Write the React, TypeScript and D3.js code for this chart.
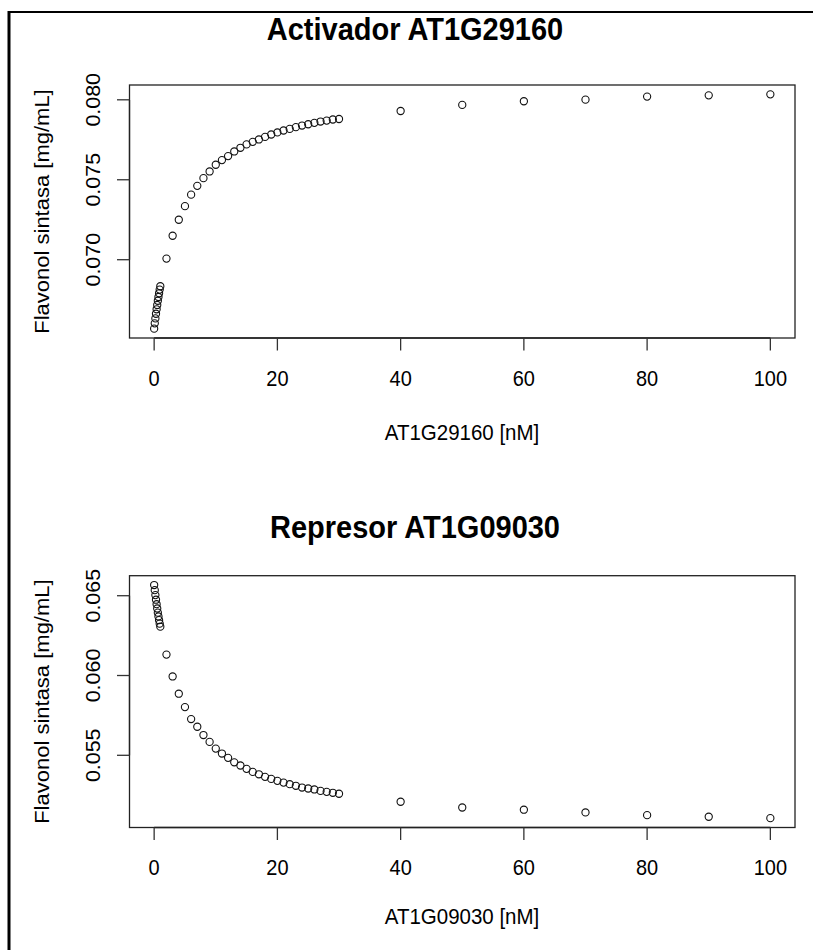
import React, { useEffect } from "react";
import * as d3 from "d3";

// concentracion del factor de transcripcion [nM]
const conc = [
  0, 0.1, 0.2, 0.3, 0.4, 0.5, 0.6, 0.7, 0.8, 0.9, 1,
  2, 3, 4, 5, 6, 7, 8, 9, 10, 11, 12, 13, 14, 15, 16, 17, 18, 19, 20,
  21, 22, 23, 24, 25, 26, 27, 28, 29, 30,
  40, 50, 60, 70, 80, 90, 100,
];

// flavonol sintasa [mg/mL]
const activador = [
  0.06569, 0.06602, 0.06633, 0.06662, 0.0669, 0.06717, 0.06743, 0.06767, 0.0679, 0.06813, 0.06834,
  0.07007, 0.0715, 0.0725, 0.07335, 0.07407, 0.07462, 0.0751, 0.07552, 0.07594, 0.07623,
  0.07648, 0.07677, 0.077, 0.07721, 0.07737, 0.07752, 0.07768, 0.07783, 0.07796,
  0.07808, 0.07818, 0.07829, 0.07839, 0.07847, 0.07856, 0.07864, 0.0787, 0.07877, 0.0788,
  0.0793, 0.07968, 0.07991, 0.08001, 0.0802, 0.08028, 0.08034,
];

const represor = [
  0.06567, 0.06535, 0.06504, 0.06475, 0.06447, 0.0642, 0.06394, 0.0637, 0.06347, 0.06325, 0.06306,
  0.06131, 0.05994, 0.05886, 0.05802, 0.05727, 0.05679, 0.05627, 0.05584, 0.05542, 0.05511,
  0.05484, 0.05456, 0.05436, 0.05415, 0.05396, 0.05381, 0.05365, 0.05352, 0.0534,
  0.05329, 0.05319, 0.05309, 0.05298, 0.05292, 0.05286, 0.05277, 0.05271, 0.05265, 0.05259,
  0.05209, 0.05173, 0.05159, 0.05142, 0.05125, 0.05115, 0.05106,
];

const xTicks = [0, 20, 40, 60, 80, 100];
const yTicksActivador = [0.07, 0.075, 0.08];
const yTicksRepresor = [0.055, 0.06, 0.065];

const titles = ["Activador AT1G29160", "Represor AT1G09030"];
const xLabels = ["AT1G29160 [nM]", "AT1G09030 [nM]"];
const yLabel = "Flavonol sintasa [mg/mL]";

const FONT = "'Liberation Sans', Arial, sans-serif";
const SY = 1.1; // el grafico original esta un poco estirado en vertical

// rango al estilo de R: extension de los datos +4% a cada lado
const padded = (vals: number[]) => {
  const [lo, hi] = d3.extent(vals) as [number, number];
  const p = (hi - lo) * 0.04;
  return [lo - p, hi + p];
};

const Txt = (props: any) => {
  const { x, y, rot, size, bold, anchor, children } = props;
  const tr =
    "translate(" + x + "," + y + ") scale(1," + SY + ")" + (rot ? " rotate(-90)" : "");
  return (
    <text
      transform={tr}
      fontFamily={FONT}
      fontSize={size}
      fontWeight={bold ? "bold" : "normal"}
      textAnchor={anchor || "middle"}
      fill="#000"
    >
      {children}
    </text>
  );
};

const Panel = (props: any) => {
  const { values, yTicks, title, xLabel, box, titleY, tickY, xLabY } = props;
  const x = d3.scaleLinear().domain(padded(conc)).range([box.left, box.right]);
  const y = d3.scaleLinear().domain(padded(values)).range([box.bottom, box.top]);
  const fmt = d3.format(".3f");
  const tickLen = 12.5;

  return (
    <g>
      <Txt x={415} y={titleY} size={29} bold>
        {title}
      </Txt>
      <rect
        x={box.left}
        y={box.top}
        width={box.right - box.left}
        height={box.bottom - box.top}
        fill="none"
        stroke="#222"
        strokeWidth={1.3}
      />
      {/* eje x */}
      <line
        x1={x(xTicks[0])}
        x2={x(xTicks[xTicks.length - 1])}
        y1={box.bottom}
        y2={box.bottom}
        stroke="#222"
        strokeWidth={1.3}
      />
      {xTicks.map((t) => (
        <g key={"x" + t}>
          <line
            x1={x(t)}
            x2={x(t)}
            y1={box.bottom}
            y2={box.bottom + tickLen}
            stroke="#333"
            strokeWidth={1.3}
          />
          <Txt x={x(t)} y={tickY} size={20}>
            {String(t)}
          </Txt>
        </g>
      ))}
      {/* eje y */}
      <line
        x1={box.left}
        x2={box.left}
        y1={y(yTicks[0])}
        y2={y(yTicks[yTicks.length - 1])}
        stroke="#222"
        strokeWidth={1.3}
      />
      {yTicks.map((t: number) => (
        <g key={"y" + t}>
          <line
            x1={box.left - tickLen}
            x2={box.left}
            y1={y(t)}
            y2={y(t)}
            stroke="#333"
            strokeWidth={1.3}
          />
          <Txt x={99.5} y={y(t)} size={19.5} rot>
            {fmt(t)}
          </Txt>
        </g>
      ))}
      <Txt x={462} y={xLabY} size={20.5}>
        {xLabel}
      </Txt>
      <Txt x={49} y={(box.top + box.bottom) / 2} size={20} rot>
        {yLabel}
      </Txt>
      {/* puntos */}
      {values.map((v: number, i: number) => (
        <circle
          key={i}
          cx={x(conc[i])}
          cy={y(v)}
          r={3.6}
          fill="none"
          stroke="#111"
          strokeWidth={1.1}
        />
      ))}
    </g>
  );
};

const App = () => {
  useEffect(() => {
    document.body.style.margin = "0";
  }, []);

  return (
    <svg width={813} height={950} style={{ display: "block", background: "#fff" }}>
      <rect x={0} y={0} width={813} height={950} fill="#fff" />
      {/* marco exterior */}
      <line x1={9} x2={813} y1={12} y2={12} stroke="#000" strokeWidth={2.2} />
      <line x1={9} x2={9} y1={11} y2={950} stroke="#000" strokeWidth={3} />
      <Panel
        values={activador}
        yTicks={yTicksActivador}
        title={titles[0]}
        xLabel={xLabels[0]}
        box={{ left: 129.5, right: 795, top: 85, bottom: 338 }}
        titleY={40}
        tickY={386}
        xLabY={440}
      />
      <Panel
        values={represor}
        yTicks={yTicksRepresor}
        title={titles[1]}
        xLabel={xLabels[1]}
        box={{ left: 129.5, right: 795, top: 575.7, bottom: 827.5 }}
        titleY={538}
        tickY={875}
        xLabY={924}
      />
    </svg>
  );
};

export default App;
